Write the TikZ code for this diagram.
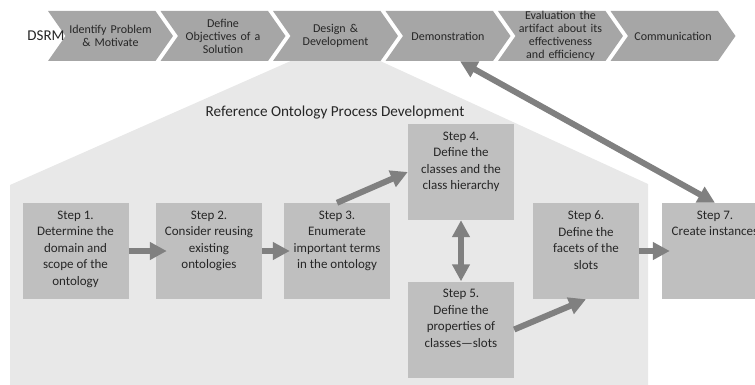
\documentclass[tikz,border=0pt]{standalone}
\usepackage{fontspec}
\setmainfont{Carlito}
\usetikzlibrary{arrows.meta,shapes.symbols}
\definecolor{chevgray}{HTML}{A6A6A6}
\definecolor{boxgray}{HTML}{BFBFBF}
\definecolor{bggray}{HTML}{E8E8E8}
\definecolor{arrgray}{HTML}{808080}
\definecolor{txtgray}{HTML}{262626}
\tikzset{
  phase/.style={signal, signal to=east, signal from=west, signal pointer angle=110,
    fill=chevgray, minimum width=125pt, minimum height=50pt, inner sep=0pt,
    text width=88pt, align=center, text=txtgray, font=\fontsize{12}{13}\selectfont},
  stepbox/.style={fill=boxgray, minimum width=106pt, minimum height=96pt, inner sep=0pt,
    text=txtgray, font=\fontsize{13}{16.5}\selectfont},
  fatarrow/.style={arrgray, line width=6pt, -{Triangle[length=17pt,width=17pt]}},
  fatboth/.style={arrgray, line width=6pt, {Triangle[length=17pt,width=17pt]}-{Triangle[length=17pt,width=17pt]}},
}
\newcommand{\steptext}[1]{\parbox[c][90pt][t]{104pt}{\centering\vspace{5pt}#1}}
\begin{document}
\begin{tikzpicture}[x=1pt,y=-1pt]
\useasboundingbox (0,0) rectangle (755,385);
\clip (0,0) rectangle (755,385);
% background house
\fill[bggray] (10,386) -- (10,185) -- (293,60) -- (378,60) -- (648,184) -- (648,386) -- cycle;
\node[text=txtgray, font=\fontsize{15.2}{18}\selectfont] (title) at (335,113) {Reference Ontology Process Development};
% DSRM phases
\node[phase] (ident) at (110.5,36) {Identify Problem\\\& Motivate};
\node[phase] (objs) at (223,36) {Define\\Objectives of a\\Solution};
\node[phase] (design) at (335.5,36) {Design \&\\Development};
\node[phase] (demo) at (448,36) {Demonstration};
\node[phase] (eval) at (560.5,36) {Evaluation the\\artifact about its\\effectiveness\\and efficiency};
\node[phase] (comm) at (673,36) {Communication};
\node[text=txtgray, font=\fontsize{15}{18}\selectfont] (dsrm) at (46,36) {DSRM};
% steps
\node[stepbox] (s1) at (75.5,251) {\steptext{Step 1.\\Determine the\\domain and\\scope of the\\ontology}};
\node[stepbox] (s2) at (209,251) {\steptext{Step 2.\\Consider reusing\\existing\\ontologies}};
\node[stepbox] (s3) at (337,251) {\steptext{Step 3.\\Enumerate\\important terms\\in the ontology}};
\node[stepbox] (s4) at (461,172) {\steptext{Step 4.\\Define the\\classes and the\\class hierarchy}};
\node[stepbox] (s5) at (461,329.5) {\steptext{Step 5.\\Define the\\properties of\\classes---slots}};
\node[stepbox] (s6) at (586,251) {\steptext{Step 6.\\Define the\\facets of the\\slots}};
\node[stepbox] (s7) at (715,251) {\steptext{Step 7.\\Create instances}};
% arrows
\draw[fatarrow, shorten >=-11pt] (s1.east) -- (s2.west);
\draw[fatarrow, shorten >=-6pt] (s2.east) -- (s3.west);
\draw[fatarrow] (s3.north) -- (s4.west);
\draw[fatboth] (s4.south) -- (s5.north);
\draw[fatarrow] (s5.east) -- (s6.south);
\draw[fatarrow, shorten >=-8pt] (s6.east) -- (s7.west);
\draw[fatboth] ([xshift=12pt]demo.south) -- (s7.north);
\end{tikzpicture}
\end{document}
